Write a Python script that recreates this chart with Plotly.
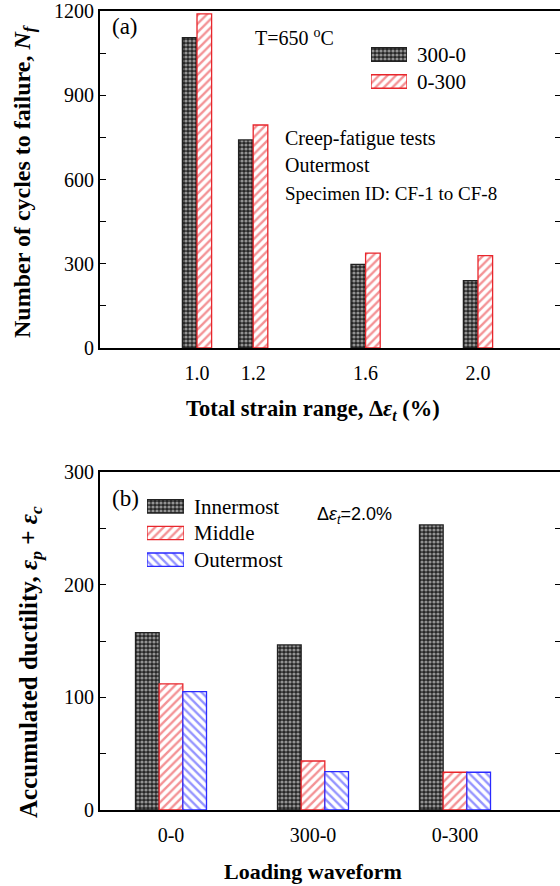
import plotly.graph_objects as go

# ---- Data: panel (a) ----
strain_range = [1.0, 1.2, 1.6, 2.0]
nf_300_0 = [1105, 741, 298, 240]
nf_0_300 = [1190, 794, 338, 329]
a_yticks = [0, 300, 600, 900, 1200]
a_xticks = [1.0, 1.2, 1.6, 2.0]
a_xticklabels = ["1.0", "1.2", "1.6", "2.0"]
a_series = ["300-0", "0-300"]

# ---- Data: panel (b) ----
waveforms = ["0-0", "300-0", "0-300"]
duct_inner = [157.5, 146.5, 253]
duct_middle = [112, 43.5, 33.5]
duct_outer = [105, 34, 33.5]
b_yticks = [0, 100, 200, 300]
b_series = ["Innermost", "Middle", "Outermost"]

SERIF = "Liberation Serif"
SANS = "Liberation Sans"
RED = "#e8262c"
BLUE = "#2a2aff"
DARK = "#222222"

W, H = 560, 886
ML, MR, MT, MB = 100, 0, 11, 76
plot_h = H - MT - MB
def py(pix):  # pixel y -> paper y
    return (H - MB - pix) / plot_h
def px(pix):  # pixel x -> paper x
    return (pix - ML) / (W - ML - MR)

black_pat = dict(shape=".", fgcolor="white", bgcolor="#262626", size=4, solidity=0.5)
red_pat = dict(shape="/", fgcolor=RED, bgcolor="white", size=6, solidity=0.4)
blue_pat = dict(shape="\\", fgcolor=BLUE, bgcolor="white", size=6, solidity=0.4)
styles_a = [(black_pat, DARK), (red_pat, RED)]
styles_b = [(black_pat, DARK), (red_pat, RED), (blue_pat, BLUE)]

fig = go.Figure()
bw = 0.052
for vals, off, (pat, lc), nm in zip([nf_300_0, nf_0_300], [-bw, 0], styles_a, a_series):
    fig.add_trace(go.Bar(x=strain_range, y=vals, name=nm, width=bw, offset=off, showlegend=False,
                         marker=dict(color="white", pattern=pat, line=dict(color=lc, width=1.3)),
                         xaxis="x", yaxis="y"))

for vals, (pat, lc), nm in zip([duct_inner, duct_middle, duct_outer], styles_b, b_series):
    fig.add_trace(go.Bar(x=waveforms, y=vals, name=nm, showlegend=False,
                         marker=dict(color="white", pattern=pat, line=dict(color=lc, width=1.3)),
                         xaxis="x2", yaxis="y2"))

# legend keys drawn as full-width horizontal bars on small hidden axes
for (pat, lc), nm in zip(styles_a, a_series):
    fig.add_trace(go.Bar(y=[nm], x=[1], orientation="h", showlegend=False, hoverinfo="skip",
                         marker=dict(color="white", pattern=pat, line=dict(color=lc, width=1.3)),
                         xaxis="x3", yaxis="y5"))
for (pat, lc), nm in zip(styles_b, b_series):
    fig.add_trace(go.Bar(y=[nm], x=[1], orientation="h", showlegend=False, hoverinfo="skip",
                         marker=dict(color="white", pattern=pat, line=dict(color=lc, width=1.3)),
                         xaxis="x4", yaxis="y6"))

tickfont = dict(family=SERIF, size=20, color="black")
legfont = dict(family=SERIF, size=21, color="black")
a_dom = [py(348), 1.0]
b_dom = [0.0, py(472)]
a_ppu = 281.0
x0a = 1.0 - (197 - ML) / a_ppu
x1a = x0a + (W - ML - MR) / a_ppu
cat_px = 142.0
x1b = -0.5 + (W - ML - MR) / cat_px

common_x = dict(showline=True, linecolor="black", linewidth=1.8, mirror=True,
                ticks="", showgrid=False, zeroline=False, tickfont=tickfont, ticklabelstandoff=6)
common_y = dict(showline=True, linecolor="black", linewidth=1.8, ticks="inside", ticklen=6,
                tickwidth=1.3, tickcolor="black", showgrid=False, zeroline=False, tickfont=tickfont)
hidden_x = dict(range=[0, 1], showline=False, showticklabels=False, ticks="", showgrid=False,
                zeroline=False, fixedrange=True)
hidden_y = dict(showline=False, ticks="", showgrid=False, zeroline=False, side="right",
                autorange="reversed", tickfont=legfont, ticklabelstandoff=9, type="category",
                fixedrange=True)

fig.update_layout(
    width=W, height=H,
    margin=dict(l=ML, r=MR, t=MT, b=MB),
    paper_bgcolor="white", plot_bgcolor="white",
    barmode="group", bargap=0.5, bargroupgap=0, showlegend=False,
    xaxis=dict(common_x, domain=[0, 1], anchor="y", range=[x0a, x1a],
               tickmode="array", tickvals=a_xticks, ticktext=a_xticklabels),
    yaxis=dict(common_y, domain=a_dom, anchor="x", range=[0, 1200],
               tickmode="array", tickvals=a_yticks,
               minor=dict(ticks="inside", dtick=150, ticklen=6, tickwidth=1.3, tickcolor="black")),
    yaxis3=dict(overlaying="y", side="right", anchor="x", matches="y", showline=False,
                ticks="inside", ticklen=5, tickwidth=1.3, tickcolor="black", showticklabels=False,
                showgrid=False, zeroline=False, tickmode="array", tickvals=a_yticks,
                minor=dict(ticks="inside", dtick=150, ticklen=5, tickwidth=1.3, tickcolor="black")),
    xaxis2=dict(common_x, domain=[0, 1], anchor="y2", range=[-0.5, x1b], type="category"),
    yaxis2=dict(common_y, domain=b_dom, anchor="x2", range=[0, 300],
                tickmode="array", tickvals=b_yticks,
                minor=dict(ticks="inside", dtick=50, ticklen=6, tickwidth=1.3, tickcolor="black")),
    yaxis4=dict(overlaying="y2", side="right", anchor="x2", matches="y2", showline=False,
                ticks="inside", ticklen=5, tickwidth=1.3, tickcolor="black", showticklabels=False,
                showgrid=False, zeroline=False, tickmode="array", tickvals=b_yticks,
                minor=dict(ticks="inside", dtick=50, ticklen=5, tickwidth=1.3, tickcolor="black")),
    xaxis3=dict(hidden_x, domain=[px(371), px(407)], anchor="y5"),
    yaxis5=dict(hidden_y, domain=[py(95), py(41)], anchor="x3"),
    xaxis4=dict(hidden_x, domain=[px(147), px(184)], anchor="y6"),
    yaxis6=dict(hidden_y, domain=[py(573), py(493)], anchor="x4"),
)

# dummy traces to show right ticks on overlay axes
fig.add_trace(go.Scatter(x=[None], y=[None], xaxis="x", yaxis="y3", showlegend=False, hoverinfo="skip"))
fig.add_trace(go.Scatter(x=[None], y=[None], xaxis="x2", yaxis="y4", showlegend=False, hoverinfo="skip"))

ann = []
def add_text(text, x, y, size, family=SERIF, xanchor="left", yanchor="middle", angle=0):
    ann.append(dict(text=text, x=px(x), y=py(y), xref="paper", yref="paper", showarrow=False,
                    xanchor=xanchor, yanchor=yanchor, textangle=angle,
                    font=dict(family=family, size=size, color="black")))

add_text("(a)", 110, 26, 23)
add_text("T=650 <sup>o</sup>C", 253, 37, 20)
add_text("Creep-fatigue tests", 283, 138, 20)
add_text("Outermost", 283, 165, 20)
add_text("Specimen ID: CF-1 to CF-8", 283, 193, 19)
add_text("<b>Total strain range, Δ<i>ε<sub>t</sub></i> (%)</b>", 313, 410, 22.5, xanchor="center")
add_text("<b>Number of cycles to failure, <i>N<sub>f</sub></i></b>", 24, 182, 24, xanchor="center", angle=-90)

add_text("(b)", 110, 498, 23)
add_text("Δ<i>ε<sub>t</sub></i>=2.0%", 315, 515, 18, family=SANS)
add_text("<b>Loading waveform</b>", 313, 871, 22, xanchor="center")
add_text("<b>Accumulated ductility, <i>ε<sub>p</sub></i> + <i>ε<sub>c</sub></i></b>", 30, 662, 25,
         xanchor="center", angle=-90)

fig.update_layout(annotations=ann)
fig.write_html("out.html")
